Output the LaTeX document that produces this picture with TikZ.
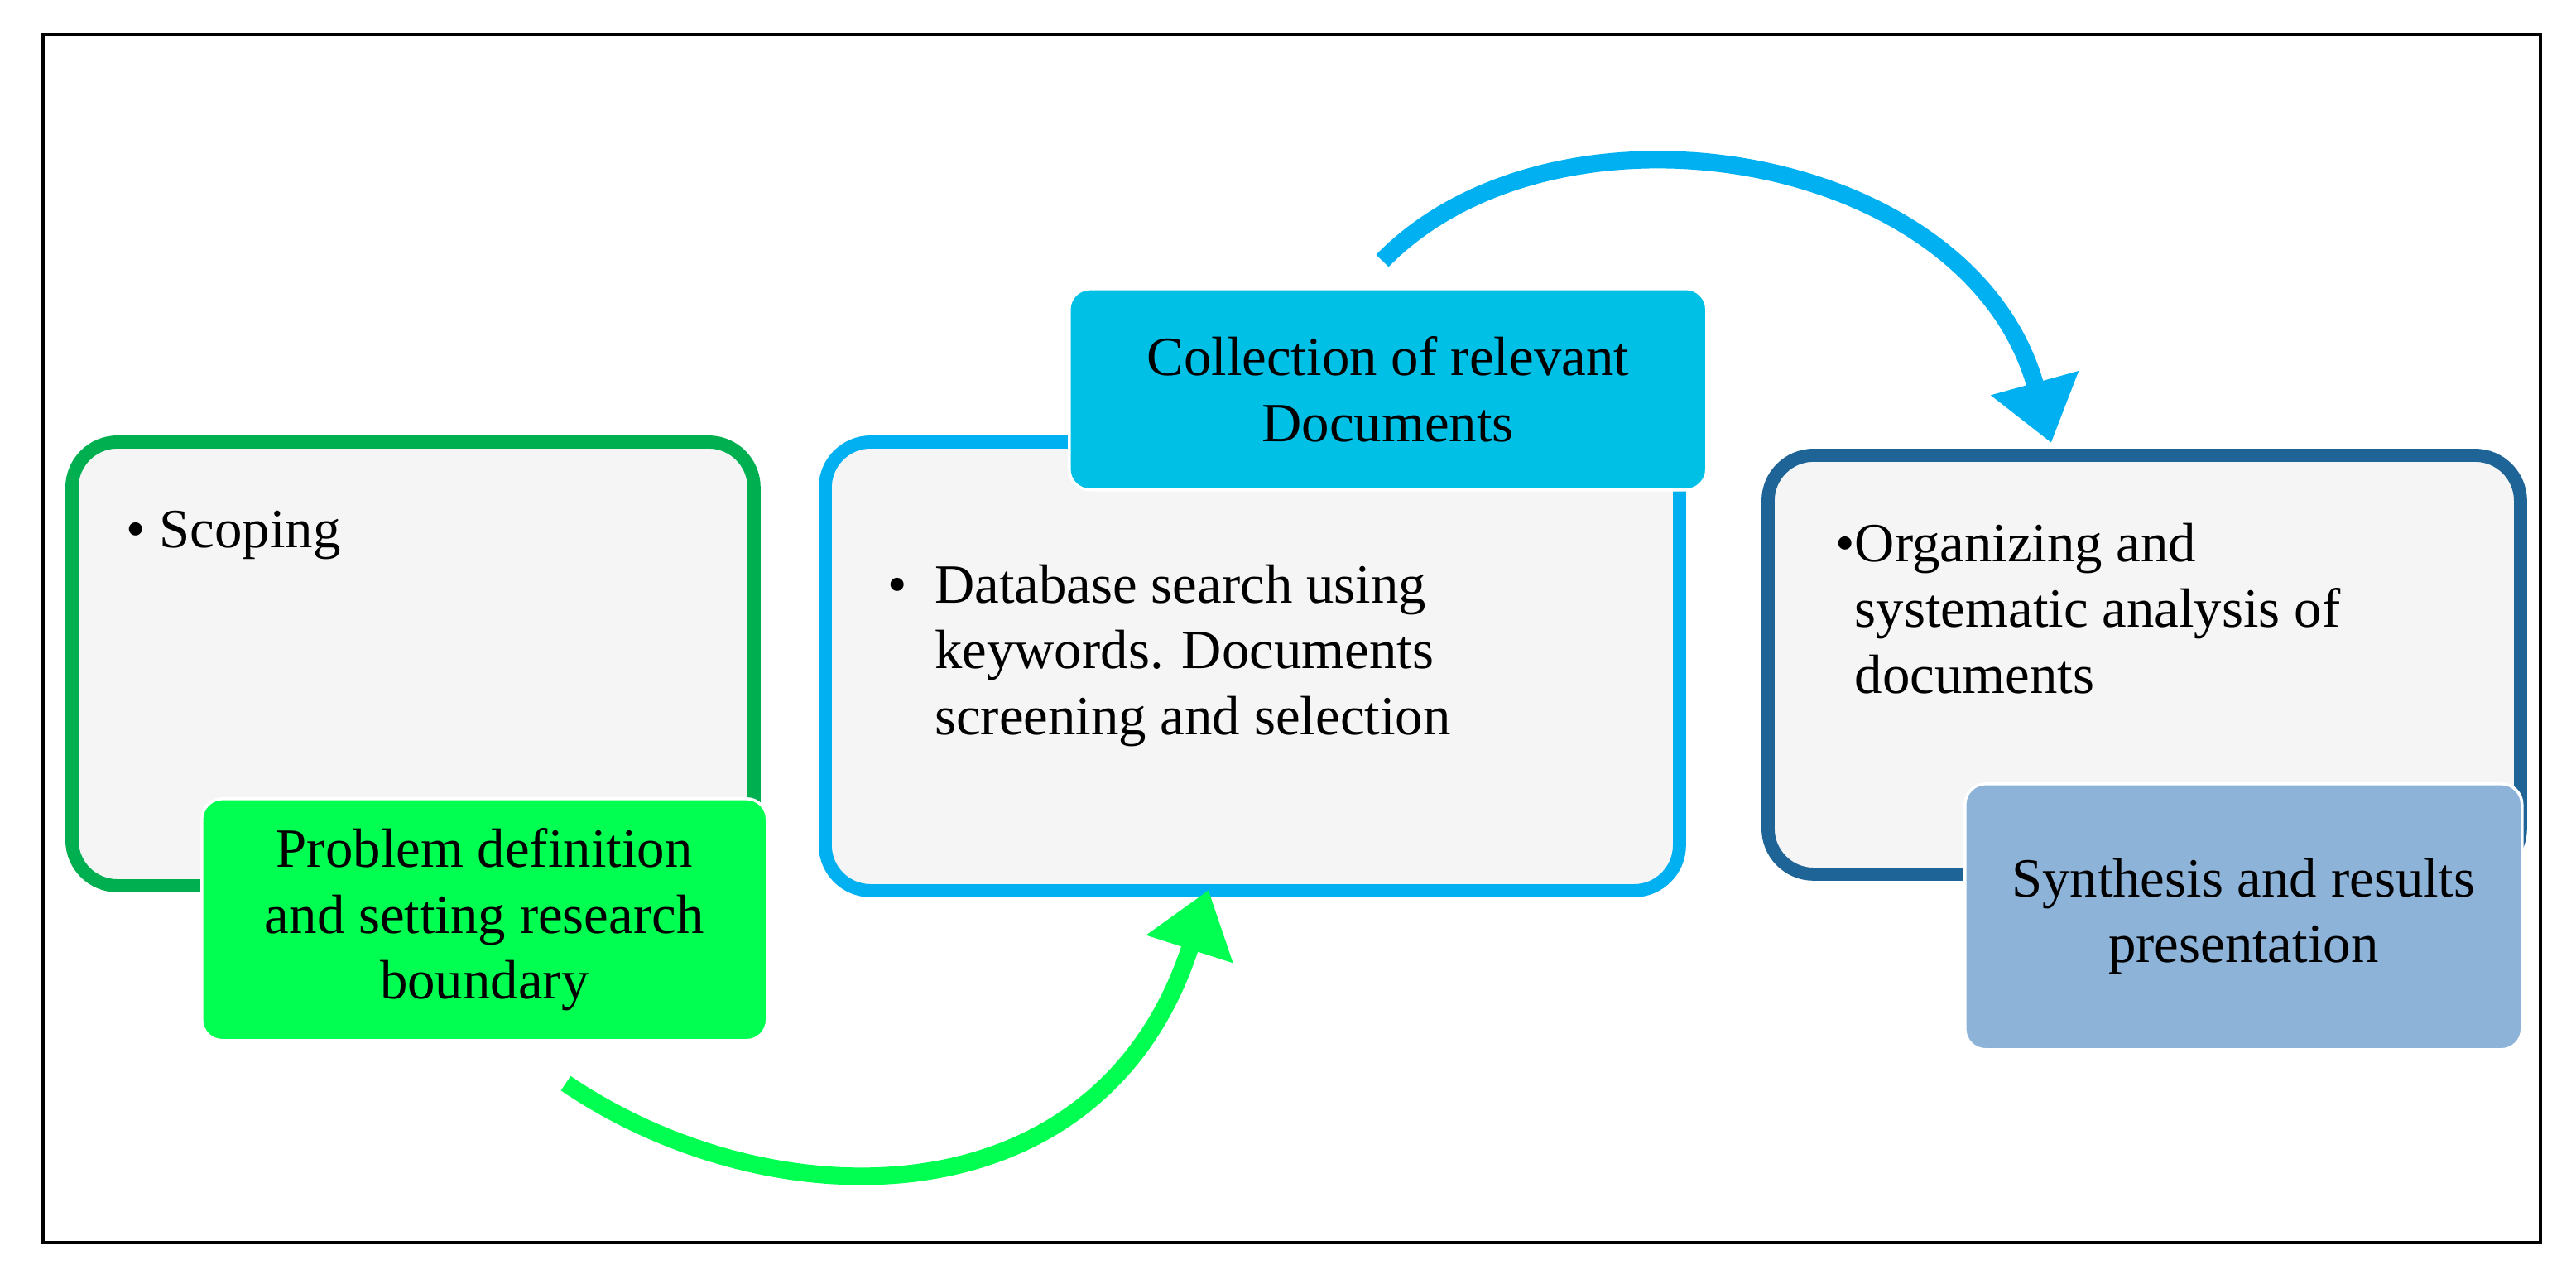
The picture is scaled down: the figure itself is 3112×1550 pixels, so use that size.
\documentclass[tikz,border=0pt]{standalone}
\usepackage{fontspec}
\setmainfont{Liberation Serif}
\usetikzlibrary{arrows.meta}
\definecolor{gA}{HTML}{00B050}
\definecolor{gB}{HTML}{00FF50}
\definecolor{bA}{HTML}{00B0F0}
\definecolor{bB}{HTML}{00C0E6}
\definecolor{dA}{HTML}{1F6496}
\definecolor{dB}{HTML}{8DB3D9}
\definecolor{pane}{HTML}{F5F5F5}
\tikzset{
 pane/.style={draw=#1,line width=4.5pt,fill=pane,rounded corners=0.55cm,anchor=north west,inner sep=0},
 lab/.style={fill=#1,draw=white,line width=1pt,rounded corners=0.25cm,anchor=north west,inner sep=0,align=center,font=\fontsize{19}{22.5}\selectfont},
 txt/.style={anchor=north west,align=left,font=\fontsize{19}{22.5}\selectfont},
 arr/.style={draw=#1,line width=6pt,-{Triangle[length=0.75cm,width=1.05cm]}}
}
\begin{document}
\begin{tikzpicture}[x=0.01cm,y=-0.01cm]
\useasboundingbox (0,0) rectangle (3112,1550);
\node[draw=black,line width=1.2pt,minimum width=3017*0.01cm,minimum height=1459*0.01cm,anchor=north west,inner sep=0] (frame) at (50,40) {};
% pane 1
\node[pane=gA,minimum width=824*0.01cm,minimum height=536*0.01cm] (p1) at (79,526) {};
\node[txt] (t1) at (140,605) {\textbullet\ Scoping};
\node[lab=gB,minimum width=683*0.01cm,minimum height=292*0.01cm] (l1) at (242,963) {Problem definition\\and setting research\\boundary};
% pane 2
\node[pane=bA,minimum width=1032*0.01cm,minimum height=542*0.01cm] (p2) at (989,526) {};
\node[txt] (t2) at (1060,670) {\textbullet\ \ Database search using\\\phantom{\textbullet\ \ }keywords. Documents\\\phantom{\textbullet\ \ }screening and selection};
\node[lab=bB,minimum width=770*0.01cm,minimum height=243*0.01cm] (l2) at (1290,347) {Collection of relevant\\Documents};
% pane 3
\node[pane=dA,minimum width=909*0.01cm,minimum height=506*0.01cm] (p3) at (2128,542) {};
\node[txt] (t3) at (2205,620) {\textbullet Organizing and\\\phantom{\textbullet}systematic analysis of\\\phantom{\textbullet}documents};
\node[lab=dB,minimum width=673*0.01cm,minimum height=321*0.01cm] (l3) at (2372,945) {Synthesis and results\\presentation};
% arrows
\coordinate (a1) at (1460,1075);
\coordinate (a2) at (2478,535);
\draw[arr=gB] (l1.south east) ++(-245,50) .. controls +(250,170) and (1330,1480) .. (a1);
\draw[arr=bA] (l2.north west) ++(380,-32) .. controls (1880,100) and (2380,180) .. (a2);
\end{tikzpicture}
\end{document}
